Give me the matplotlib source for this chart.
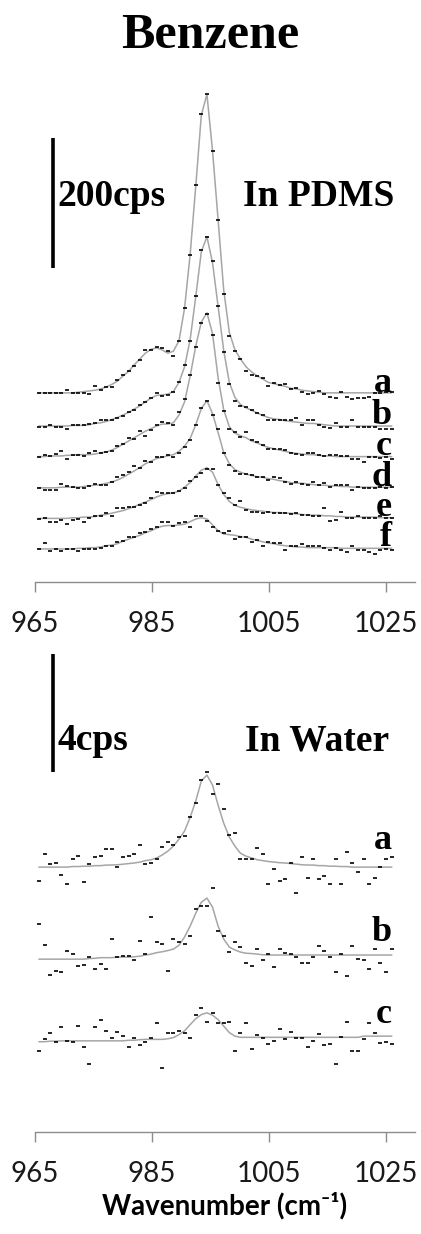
import matplotlib
matplotlib.use('Agg')
import matplotlib.pyplot as plt

# ---------------- data ----------------
wavenumber = [965.70, 966.66, 967.61, 968.57, 969.53, 970.49, 971.44, 972.40, 973.36, 974.31,
              975.27, 976.23, 977.18, 978.14, 979.10, 980.06, 981.01, 981.97, 982.93, 983.88,
              984.84, 985.80, 986.75, 987.71, 988.67, 989.63, 990.58, 991.54, 992.50, 993.45,
              994.41, 995.37, 996.32, 997.28, 998.24, 999.20, 1000.15, 1001.11, 1002.07, 1003.02,
              1003.98, 1004.94, 1005.89, 1006.85, 1007.81, 1008.77, 1009.72, 1010.68, 1011.64, 1012.59,
              1013.55, 1014.51, 1015.46, 1016.42, 1017.38, 1018.34, 1019.29, 1020.25, 1021.21, 1022.16,
              1023.12, 1024.08, 1025.04, 1025.99]

# In PDMS (cps), fitted curves and measured points
pdms_fit_a = [2,2,2,2,2,2,2,3,4,5, 6,8,11,15,20,28,35,45,54,63, 69,71,68,63,66,82,132,215,320,429,
              461,374,268,160,95,68,54,42,34,28, 23,18,16,14,12,9,8,6,5,4, 3,2,2,2,2,2,2,2,2,2, 2,2,2,2]
pdms_pts_a = [2,2,2,2,2,7,2,2,2,0, 13,7,11,11,22,30,36,44,52,68, 68,73,71,66,59,82,133,214,321,430,
              461,374,268,154,89,66,54,35,29,28, 25,12,17,14,15,8,9,3,0,2, 5,0,-4,-6,3,-4,-8,-6,-6,-4, 2,2,4,3]
pdms_fit_b = [1,1,1,1,1,1,2,2,2,3, 5,6,8,11,14,18,22,27,32,38, 44,48,49,50,54,68,92,134,200,269,
              292,252,185,117,68,45,34,29,25,21, 17,14,12,11,9,8,7,6,5,5, 4,3,2,1,1,1,1,1,1,1, 1,1,1,1]
pdms_pts_b = [-1,0,3,-1,-1,-4,3,3,3,4, 5,10,10,11,14,16,23,26,33,38, 44,52,47,49,54,69,95,132,201,271,
              292,254,185,115,65,40,32,30,26,21, 18,10,11,11,11,10,13,3,10,10, 3,0,-2,5,0,0,10,0,0,0, 0,-4,-4,-4]
pdms_fit_c = [2,2,3,3,3,4,4,5,5,5, 6,8,9,12,16,21,26,31,36,41, 45,49,52,52,54,66,86,126,172,209,
              223,191,123,74,48,38,34,31,26,23, 19,16,14,12,10,8,7,6,5,5, 4,3,3,2,2,2,2,2,2,2, 2,2,2,2]
pdms_pts_c = [1,5,3,6,10,-1,5,4,3,8, 10,7,9,10,18,21,30,29,41,34, 43,51,55,53,51,71,90,128,170,208,
              222,189,115,72,44,40,32,40,27,25, 20,14,14,13,12,8,6,4,7,7, 4,3,4,4,3,3,-1,-1,-6,2, 2,0,1,-1]
pdms_fit_d = [1,1,1,1,2,2,2,2,3,4, 5,6,8,10,13,17,22,27,32,38, 42,46,48,50,52,57,65,77,98,123,
              135,115,86,55,38,29,25,22,20,18, 17,15,14,12,11,9,8,8,7,6, 5,5,4,4,3,3,2,2,2,2, 2,2,2,2]
pdms_pts_d = [0,-3,-3,-2,7,4,3,0,0,4, 7,5,5,10,18,20,26,34,32,42, 40,49,49,52,49,54,63,75,98,123,
              135,113,91,55,36,27,23,23,21,18, 18,13,18,16,10,7,10,7,5,10, 5,8,3,5,5,5,-2,3,0,0, 0,2,0,2]
pdms_fit_e = [0,0,0,0,0,0,1,1,2,2, 3,5,6,8,10,12,15,18,22,25, 29,33,36,38,39,42,48,55,65,74,
              78,71,52,37,26,20,17,15,13,12, 11,10,9,9,8,8,7,6,5,5, 5,4,4,3,3,2,2,2,2,2, 2,1,1,1]
pdms_pts_e = [-1,0,-6,-6,-2,-9,-2,-1,-5,0, 4,4,8,3,16,16,17,17,21,24, 31,41,39,39,39,42,46,57,64,70,
              76,76,52,39,31,21,27,13,10,10, 9,10,9,9,9,7,9,5,5,4, 4,16,-4,-3,10,0,1,3,1,0, 0,3,1,1]
pdms_fit_f = [0,0,0,0,0,0,0,1,1,2, 2,3,5,6,8,12,15,18,21,25, 28,32,35,36,36,37,38,42,46,48,
              46,37,28,23,22,21,19,18,15,13, 11,9,8,6,5,4,3,3,2,2, 2,2,2,2,1,1,1,1,1,1, 1,1,1,1]
pdms_pts_f = [0,9,-3,0,-3,0,0,-3,0,0, 0,1,4,5,11,13,19,18,24,26, 31,34,42,42,35,40,41,33,51,51,
              43,34,27,25,28,16,19,18,11,14, 4,11,9,9,-2,4,5,8,5,4, 4,1,-1,1,-1,-4,5,-1,-1,-4, -7,-1,0,-1]
pdms_labels = ['a', 'b', 'c', 'd', 'e', 'f']
pdms_offsets = [238, 188, 140, 93, 47, 0]
pdms_scale_cps = 200

# In Water (cps)
water_fit_a = [0,0,0,0,0,0,0.02,0.02,0.03,0.03, 0.05,0.05,0.07,0.07,0.08,0.10,0.12,0.14,0.17,0.22,
               0.25,0.31,0.41,0.54,0.71,0.95,1.22,1.69,2.24,2.92, 3.12,2.78,2.10,1.49,1.02,0.71,0.47,0.37,0.31,0.25,
               0.22,0.19,0.17,0.15,0.14,0.12,0.10,0.08,0.07,0.07, 0.05,0.05,0.03,0.03,0.02,0.02,0,0,0,0, 0,0,0,0]
water_pts_a = [-0.46,0.44,0.09,0.15,-0.27,-0.58,0.29,0.38,-0.52,0.09, 0.35,0.38,0.60,0.60,-0.01,0.35,0.38,0.44,0.75,0.09,
               0.15,0.26,0.69,0.86,0.75,1.01,1.05,1.71,2.16,2.97, 3.23,2.47,2.81,1.97,1.08,1.16,0.26,0.26,0.26,0.65,
               0.44,-0.58,-0.07,-0.46,-0.41,0.13,-0.87,0.35,-0.36,0.26, -0.41,-0.31,-0.58,0.29,-0.58,0.50,0.15,-0.16,0.29,-0.58,
               -0.36,-0.01,0.26,0.35]
water_fit_b = [0,0,0,0,0,0,0,0,0,0.02, 0.03,0.05,0.05,0.05,0.07,0.07,0.07,0.08,0.10,0.14,
               0.17,0.22,0.25,0.29,0.34,0.47,0.75,1.12,1.56,1.93, 2.07,1.76,1.12,0.68,0.41,0.31,0.24,0.20,0.19,0.17,
               0.15,0.14,0.14,0.14,0.14,0.14,0.14,0.14,0.14,0.14, 0.14,0.14,0.14,0.14,0.14,0.14,0.14,0.14,0.14,0.14,
               0.14,0.14,0.14,0.14]
water_pts_b = [1.19,0.47,-0.54,-0.40,-0.43,0.27,0.17,-0.24,-0.20,0.06, -0.34,-0.18,-0.34,0.68,0.08,0.11,0.11,-0.03,0.62,0.16,
               1.43,0.57,0.53,-0.40,0.68,0.57,0.53,0.79,1.69,1.80, 1.80,2.42,0.95,0.79,0.23,0.57,0.42,-0.13,-0.24,0.36,
               -0.03,0.17,-0.28,0.33,0.21,0.16,0.06,-0.13,-0.13,0.08, 0.44,0.27,0.06,-0.43,0.17,-0.58,0.44,0.02,-0.03,-0.34,
               0.33,-0.13,-0.43,0.33]
water_fit_c = [0,0,0.02,0.02,0.03,0.03,0.03,0.03,0.03,0.03, 0.03,0.03,0.03,0.03,0.03,0.03,0.05,0.05,0.07,0.08,
               0.08,0.08,0.08,0.10,0.14,0.24,0.37,0.58,0.78,0.92, 0.98,0.90,0.75,0.53,0.31,0.19,0.15,0.15,0.15,0.15,
               0.15,0.15,0.15,0.15,0.15,0.15,0.15,0.15,0.15,0.15, 0.15,0.15,0.15,0.15,0.15,0.15,0.15,0.15,0.19,0.19,
               0.19,0.19,0.19,0.19]
water_pts_c = [-0.32,0.09,0.28,0,0.49,0.03,0,0.54,-0.17,-0.77, 0.49,0.74,0.37,0.14,0.32,0.19,-0.17,0.14,-0.11,-0.02,
               0.14,0.64,-0.88,0.28,0.28,0.37,0.28,0.14,0.91,1.15, 0.68,0.99,0.64,0.64,0.68,-0.32,0.28,0.64,-0.23,0.23,
               0.11,-0.06,0.02,0.43,0.08,0.34,0.14,0.14,-0.17,0.02, 0.25,-0.11,-0.06,-0.74,0.17,0.68,-0.32,-0.32,0.08,0.64,
               0.28,-0.03,0,-0.06]
water_labels = ['a', 'b', 'c']
water_offsets = [5.92, 2.80, 0.0]
water_scale_cps = 4

xticks = [965, 985, 1005, 1025]

pdms_fits = [pdms_fit_a, pdms_fit_b, pdms_fit_c, pdms_fit_d, pdms_fit_e, pdms_fit_f]
pdms_pts = [pdms_pts_a, pdms_pts_b, pdms_pts_c, pdms_pts_d, pdms_pts_e, pdms_pts_f]
water_fits = [water_fit_a, water_fit_b, water_fit_c]
water_pts = [water_pts_a, water_pts_b, water_pts_c]

# ---------------- figure ----------------
W, H = 421, 1234
fig = plt.figure(figsize=(W / 100, H / 100), dpi=100)

def px_axes(left, top, right, bottom):
    return fig.add_axes([left / W, 1 - bottom / H, (right - left) / W, (bottom - top) / H])

serif = 'Liberation Serif'
sans = 'Lato'
line_col = '#a6a6a6'
spine_col = '#8c8c8c'

def style_axis(ax):
    for s in ['left', 'top', 'right']:
        ax.spines[s].set_visible(False)
    ax.spines['bottom'].set_color(spine_col)
    ax.spines['bottom'].set_linewidth(1.0)
    ax.set_yticks([])
    ax.set_xlim(965, 1030)
    ax.set_xticks(xticks)
    ax.set_xticklabels([str(t) for t in xticks], fontsize=20, family=sans, color='#1a1a1a')
    ax.tick_params(axis='x', direction='out', length=7, width=1.0, color=spine_col, pad=14)
    ax.patch.set_alpha(0)

def draw_panel(ax, fits, pts, offsets, labels, lab_pad):
    for fit, p, off, lab in zip(fits, pts, offsets, labels):
        ax.plot(wavenumber, [v + off for v in fit], color=line_col, lw=1.1, zorder=2, clip_on=False)
        ax.plot(wavenumber, [v + off for v in p], linestyle='none', marker='_', ms=2.6, mew=1.2,
                color='black', zorder=3, clip_on=False)
        ax.text(1026.0, off + lab_pad, lab, ha='right', va='baseline', fontsize=26,
                fontweight='bold', family=serif, zorder=4)

# Top panel: In PDMS
ax1 = px_axes(35, 80, 415, 582)
style_axis(ax1)
ax1.set_ylim(-50.8, 721)
draw_panel(ax1, pdms_fits, pdms_pts, pdms_offsets, pdms_labels, 4)
ax1.plot([968.1, 968.1], [432, 432 + pdms_scale_cps], color='black', lw=2.6, solid_capstyle='butt')
ax1.text(968.9, 527, '%dcps' % pdms_scale_cps, ha='left', va='baseline', fontsize=27,
         fontweight='bold', family=serif)
ax1.text(1000.6, 527, 'In PDMS', ha='left', va='baseline', fontsize=27,
         fontweight='bold', family=serif)

# Bottom panel: In Water
ax2 = px_axes(35, 640, 415, 1132)
style_axis(ax2)
ax2.set_ylim(-3.06, 13.62)
draw_panel(ax2, water_fits, water_pts, water_offsets, water_labels, 0.62)
ax2.plot([968.1, 968.1], [9.16, 9.16 + water_scale_cps], color='black', lw=2.6, solid_capstyle='butt')
ax2.text(968.9, 9.89, '%dcps' % water_scale_cps, ha='left', va='baseline', fontsize=27,
         fontweight='bold', family=serif)
ax2.text(1000.9, 9.89, 'In Water', ha='left', va='baseline', fontsize=27,
         fontweight='bold', family=serif)

fig.text(0.5, 1 - 36 / H, 'Benzene', ha='center', va='center', fontsize=36,
         fontweight='bold', family=serif)
fig.text(225 / W, 1 - 1206 / H, 'Wavenumber (cm\u207b\u00b9)', ha='center', va='center',
         fontsize=20, fontweight='bold', family=[sans, 'DejaVu Sans'])

fig.savefig('out.png', dpi=100)
